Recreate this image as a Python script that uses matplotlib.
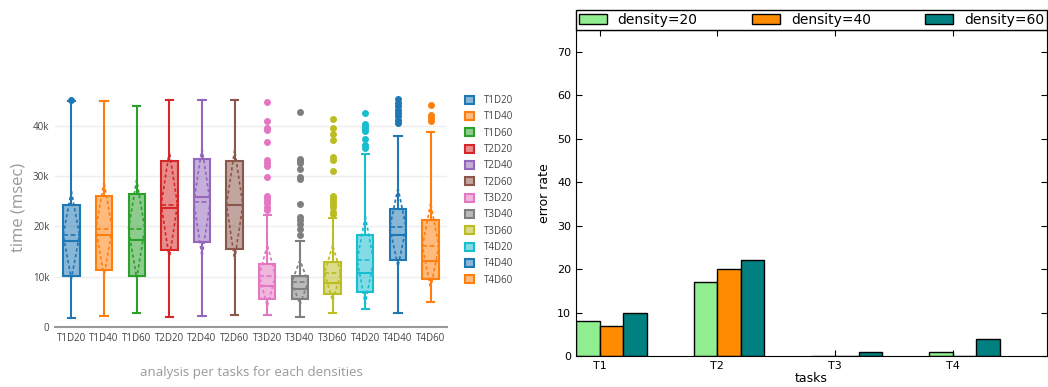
import numpy as np
import matplotlib.pyplot as plt
from matplotlib.patches import Patch
from matplotlib.ticker import FuncFormatter

# ---- left chart data (values in thousands of msec) ----
labels = ['T1D20', 'T1D40', 'T1D60', 'T2D20', 'T2D40', 'T2D60',
          'T3D20', 'T3D40', 'T3D60', 'T4D20', 'T4D40', 'T4D60']
whislo = [1.8, 2.2, 2.8, 2.0, 2.1, 2.3, 2.4, 1.9, 2.8, 3.5, 2.8, 4.9]
q1 = [10.1, 11.3, 10.2, 15.3, 16.9, 15.5, 5.5, 5.5, 6.6, 7.0, 13.3, 9.5]
med = [17.1, 18.2, 17.2, 23.6, 25.8, 24.3, 8.2, 7.5, 8.8, 10.8, 18.2, 13.1]
q3 = [24.2, 26.1, 26.5, 33.0, 33.4, 32.9, 12.5, 10.2, 12.9, 18.2, 23.4, 21.2]
whishi = [45.0, 45.0, 44.0, 45.2, 45.2, 45.2, 22.2, 17.1, 21.6, 34.4, 37.9, 38.7]
means = [18.3, 19.5, 19.5, 24.3, 24.8, 24.3, 10.2, 8.9, 10.7, 13.3, 19.8, 16.1]
sds = [8.7, 9.4, 9.8, 10.6, 10.8, 10.9, 6.1, 4.4, 5.5, 8.7, 7.8, 8.5]
outliers = [
    [45.2], [], [], [], [], [],
    [44.8, 40.9, 39.6, 39.2, 36.7, 33.1, 32.6, 32.0, 29.9,
     26.1, 25.6, 25.1, 24.6, 23.9, 23.3],
    [42.7, 33.4, 33.0, 32.6, 31.4, 29.9, 29.5, 24.5, 21.8, 21.2, 20.4, 19.5, 18.2],
    [41.4, 39.5, 38.4, 37.2, 33.8, 33.2, 31.1, 26.1, 25.6, 25.1, 24.5, 23.8, 22.9, 22.5],
    [42.5, 40.3, 39.9, 39.3, 38.9, 37.4, 36.2, 35.6],
    [45.3, 44.6, 44.0, 43.2, 42.5, 41.9, 41.2, 40.5],
    [44.2, 42.2, 41.5, 40.9],
]
colors = ['#1f77b4', '#ff7f0e', '#2ca02c', '#d62728', '#9467bd', '#8c564b',
          '#e377c2', '#7f7f7f', '#bcbd22', '#17becf', '#1f77b4', '#ff7f0e']

# ---- right chart data ----
tasks = ['T1', 'T2', 'T3', 'T4']
err20 = [8, 17, 0, 1]
err40 = [7, 20, 0, 0]
err60 = [10, 22, 1, 4]

fig = plt.figure(figsize=(10.48, 3.87), dpi=100)

# ================= left: box plots =================
ax = fig.add_axes([0.0525, 0.155, 0.374, 0.6176])
pos = np.arange(len(labels))
w = 0.5
for i in range(len(labels)):
    c = colors[i]
    st = [dict(whislo=whislo[i] * 1000, q1=q1[i] * 1000, med=med[i] * 1000,
               q3=q3[i] * 1000, whishi=whishi[i] * 1000,
               fliers=np.array(outliers[i]) * 1000)]
    ax.bxp(st, positions=[pos[i]], widths=w, capwidths=0.22, patch_artist=True,
           boxprops=dict(facecolor=c + '88', edgecolor=c, linewidth=1.5),
           medianprops=dict(color=c, linewidth=1.5),
           whiskerprops=dict(color=c, linewidth=1.5),
           capprops=dict(color=c, linewidth=1.5),
           flierprops=dict(marker='o', markersize=4, markerfacecolor=c,
                           markeredgecolor=c, linestyle='none'))
    m = means[i] * 1000
    s = sds[i] * 1000
    ax.plot([pos[i] - w / 2, pos[i] + w / 2], [m, m], color=c, lw=1.2,
            linestyle=(0, (3, 1.5)))
    ax.plot([pos[i], pos[i] - w / 2, pos[i], pos[i] + w / 2, pos[i]],
            [m + s, m, m - s, m, m + s], color=c, lw=1.2,
            linestyle=(0, (2, 1.5)))

ax.set_xlim(-0.5, len(labels) - 0.5)
ax.set_ylim(0, 47500)
ax.set_yticks([0, 10000, 20000, 30000, 40000])
ax.yaxis.set_major_formatter(FuncFormatter(lambda v, p: '0' if v == 0 else '%dk' % (v / 1000)))
ax.set_xticks(pos)
ax.set_xticklabels(labels)
ax.grid(axis='y', color='#eeeeee', linewidth=1)
ax.set_axisbelow(True)
for sp in ['top', 'right', 'left']:
    ax.spines[sp].set_visible(False)
ax.spines['bottom'].set_color('#999999')
ax.spines['bottom'].set_linewidth(1.5)
ax.tick_params(length=0, labelsize=7, labelcolor='#444444', pad=4)
for t in ax.get_xticklabels() + ax.get_yticklabels():
    t.set_fontfamily('Open Sans')
ax.set_ylabel('time (msec)', fontsize=12, color='#999999', family='Open Sans', labelpad=5)
ax.set_xlabel('analysis per tasks for each densities', fontsize=9.5,
              color='#999999', family='Open Sans', labelpad=16)

handles = [Patch(facecolor=c + '88', edgecolor=c, linewidth=1.5) for c in colors]
fig.legend(handles, labels, loc='upper left', bbox_to_anchor=(461 / 1048, 1 - 91 / 387),
           frameon=False, prop={'family': 'Open Sans', 'size': 7},
           handlelength=0.9, handleheight=0.9, handletextpad=1.1, labelspacing=0.55,
           labelcolor='#444444', borderaxespad=0)

# ================= right: bars =================
ax2 = fig.add_axes([0.5496, 0.0801, 0.4494, 0.8424])
x = np.arange(len(tasks))
bw = 0.2
ax2.bar(x - bw, err20, bw, align='edge', color='lightgreen', edgecolor='black', label='density=20')
ax2.bar(x, err40, bw, align='edge', color='darkorange', edgecolor='black', label='density=40')
ax2.bar(x + bw, err60, bw, align='edge', color='teal', edgecolor='black', label='density=60')
ax2.set_xlim(-0.2, 3.8)
ax2.set_ylim(0, 75)
ax2.set_yticks(range(0, 80, 10))
ax2.set_xticks(x)
ax2.set_xticklabels(tasks)
ax2.tick_params(direction='in', top=True, right=True, length=4, labelsize=8)
ax2.set_xlabel('tasks', fontsize=9, labelpad=1)
ax2.set_ylabel('error rate', fontsize=9, labelpad=4)
ax2.legend(bbox_to_anchor=(0., 1.0, 1., 0.07), loc='lower left', ncol=3, mode='expand',
           borderaxespad=0, fancybox=False, edgecolor='black', framealpha=1,
           fontsize=10, handlelength=2, borderpad=0.2)
ax2.get_legend().get_frame().set_linewidth(1)

fig.savefig('out.png', dpi=100)
